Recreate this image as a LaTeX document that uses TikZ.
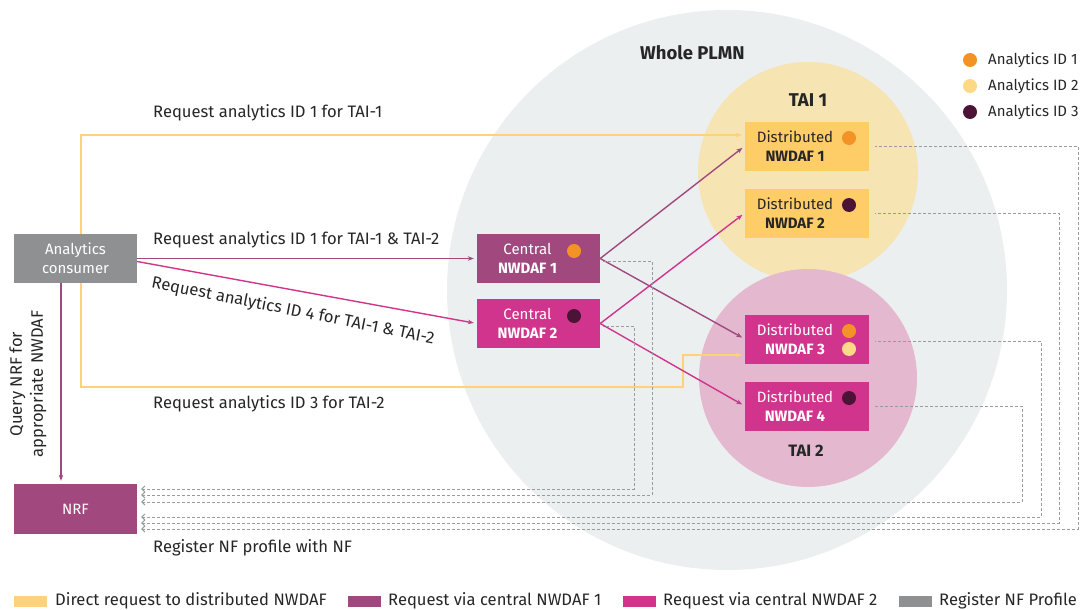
\documentclass[tikz,border=0pt]{standalone}
\usepackage{fontspec}
\setmainfont{Fira Sans}
\usetikzlibrary{arrows.meta}
\definecolor{plmn}{HTML}{ECEFF0}
\definecolor{taione}{HTML}{F7E4B3}
\definecolor{taitwo}{HTML}{E4B8CF}
\definecolor{yel}{HTML}{FFCD67}
\definecolor{yelline}{HTML}{FDD27A}
\definecolor{pur}{HTML}{A1487F}
\definecolor{mag}{HTML}{D0348C}
\definecolor{gry}{HTML}{8F9092}
\definecolor{dashgry}{HTML}{9A9B9D}
\definecolor{idone}{HTML}{F39325}
\definecolor{idtwo}{HTML}{FDD985}
\definecolor{idthree}{HTML}{4B1437}
\begin{document}
\begin{tikzpicture}[x=1pt, y=-1pt, node distance={67pt}, >={Stealth[length=6pt,width=4.5pt]},
    box/.style = {rectangle, minimum width=123pt, minimum height=49pt, inner sep=0pt},
    txt/.style = {align=center, inner sep=0pt, font=\fontsize{15}{19}\selectfont},
    dot/.style = {circle, minimum size=14pt, inner sep=0pt},
    lbl/.style = {anchor=west, inner sep=0pt, text=black!85, font=\fontsize{16.6}{19}\selectfont},
    swatch/.style = {rectangle, minimum width=33pt, minimum height=11pt, inner sep=0pt},
    conn/.style = {line width=1.4pt, shorten >=3pt},
    reg/.style = {draw=dashgry, line width=1pt, dash pattern=on 3pt off 2pt, {Straight Barb[length=3pt,width=6pt]}-}]
    \useasboundingbox (0,0) rectangle (1081,610);
    % areas
    \node[circle, fill=plmn, minimum size=560pt, inner sep=0pt] (PLMN) at (727,290) {};
    \node[circle, fill=taione, minimum size=220pt, inner sep=0pt] (TAI1) at (808,172) {};
    \node[circle, fill=taitwo, minimum size=218pt, inner sep=0pt] (TAI2) at (808,378) {};
    \node[lbl, font=\fontsize{18.5}{21}\selectfont\bfseries] (PLMNt) at (640,53) {Whole PLMN};
    \node[txt, text=black!85, font=\fontsize{18.5}{21}\selectfont\bfseries] (TAI1t) at (808,100) {TAI 1};
    \node[txt, text=black!85, font=\fontsize{16.5}{19}\selectfont\bfseries] (TAI2t) at (806,451) {TAI 2};

    % boxes
    \node[box, fill=gry] (AC) at (75.5,258.5) {};
    \node[txt, text=white] (ACt) at (AC.center) {Analytics\\consumer};
    \node[box, fill=pur, minimum height=50pt] (NRF) at (75.5,509) {};
    \node[txt, text=white] (NRFt) at (NRF.center) {NRF};

    \node[box, fill=pur] (C1) at (538.5,258.5) {};
    \node[box, fill=mag] (C2) [below of=C1, node distance={65pt}] {};
    \node[box, fill=yel, minimum width=124pt] (D1) at (807,146) {};
    \node[box, fill=yel, minimum width=124pt] (D2) [below of=D1] {};
    \node[box, fill=mag, minimum width=124pt] (D3) at (807,339) {};
    \node[box, fill=mag, minimum width=124pt] (D4) [below of=D3] {};

    \node[txt, text=white] (C1t) at ([xshift=-11pt]C1.center) {Central\\\textbf{NWDAF 1}};
    \node[txt, text=white] (C2t) at ([xshift=-11pt]C2.center) {Central\\\textbf{NWDAF 2}};
    \node[txt, text=black!85] (D1t) at ([xshift=-12pt]D1.center) {Distributed\\\textbf{NWDAF 1}};
    \node[txt, text=black!85] (D2t) at ([xshift=-12pt]D2.center) {Distributed\\\textbf{NWDAF 2}};
    \node[txt, text=white] (D3t) at ([xshift=-12pt]D3.center) {Distributed\\\textbf{NWDAF 3}};
    \node[txt, text=white] (D4t) at ([xshift=-12pt]D4.center) {Distributed\\\textbf{NWDAF 4}};

    \node[dot, fill=idone] (C1d) at ([xshift=35.5pt,yshift=7.5pt]C1.center) {};
    \node[dot, fill=idthree] (C2d) at ([xshift=35.5pt,yshift=7.5pt]C2.center) {};
    \node[dot, fill=idone] (D1d) at ([xshift=42pt,yshift=8pt]D1.center) {};
    \node[dot, fill=idthree] (D2d) at ([xshift=42pt,yshift=8pt]D2.center) {};
    \node[dot, fill=idone] (D3d) at ([xshift=42pt,yshift=8pt]D3.center) {};
    \node[dot, fill=idtwo] (D3e) at ([xshift=42pt,yshift=-10pt]D3.center) {};
    \node[dot, fill=idthree] (D4d) at ([xshift=42pt,yshift=8pt]D4.center) {};

    % requests
    \coordinate (bend) at (683,387);
    \draw[conn, yelline, ->] ([xshift=5.5pt]AC.north) |- ([yshift=11pt]D1.west);
    \draw[conn, yelline, ->] ([xshift=5.5pt]AC.south) |- (bend) |- ([yshift=-16pt]D3.west);
    \draw[conn, pur, ->] (AC.east) -- (C1.west);
    \draw[conn, mag, ->] ([yshift=-3pt]AC.east) -- (C2.west);
    \draw[conn, pur, ->] (C1.east) -- (D1.west);
    \draw[conn, pur, ->] (C1.east) -- (D3.west);
    \draw[conn, mag, ->] (C2.east) -- (D2.west);
    \draw[conn, mag, ->] (C2.east) -- (D4.west);
    \draw[conn, pur, ->] ([xshift=-14.5pt]AC.south) -- ([xshift=-14.5pt]NRF.north);

    % register NF profile
    \draw[reg] ([xshift=4pt,yshift=20pt]NRF.east) -| ([xshift=34pt,yshift=-3pt]C2.east) -- ([xshift=3pt,yshift=-3pt]C2.east);
    \draw[reg] ([xshift=4pt,yshift=14pt]NRF.east) -| ([xshift=52pt,yshift=-3pt]C1.east) -- ([xshift=3pt,yshift=-3pt]C1.east);
    \draw[reg] ([xshift=4pt,yshift=7pt]NRF.east) -| ([xshift=153pt]D4.east) -- ([xshift=6pt]D4.east);
    \draw[reg] ([xshift=4pt,yshift=-8pt]NRF.east) -| ([xshift=172pt,yshift=-2pt]D3.east) -- ([xshift=6pt,yshift=-2pt]D3.east);
    \draw[reg] ([xshift=4pt,yshift=-14pt]NRF.east) -| ([xshift=190pt]D2.east) -- ([xshift=6pt]D2.east);
    \draw[reg] ([xshift=4pt,yshift=-20pt]NRF.east) -| ([xshift=209pt]D1.east) -- ([xshift=6pt]D1.east);

    % labels
    \node[lbl] (R1) at (153,113) {Request analytics ID 1 for TAI-1};
    \node[lbl] (R2) at (153,240) {Request analytics ID 1 for TAI-1 \& TAI-2};
    \node[lbl, anchor=center, rotate=-11.3] (R4) at (293,311) {Request analytics ID 4 for TAI-1 \& TAI-2};
    \node[lbl] (R3) at (153,404) {Request analytics ID 3 for TAI-2};
    \node[lbl] (RG) at (153,548) {Register NF profile with NF};
    \node[txt, text=black!85, rotate=90, font=\fontsize{16.6}{21}\selectfont] (Q) at (28,384) {Query NRF for\\appropriate NWDAF};

    % analytics ids
    \node[dot, fill=idone] (K1) at (970,60) {};
    \node[dot, fill=idtwo] (K2) at (970,86) {};
    \node[dot, fill=idthree] (K3) at (970,112) {};
    \node[lbl, font=\fontsize{15}{17}\selectfont] (K1t) at (988,60) {Analytics ID 1};
    \node[lbl, font=\fontsize{15}{17}\selectfont] (K2t) at (988,86) {Analytics ID 2};
    \node[lbl, font=\fontsize{15}{17}\selectfont] (K3t) at (988,112) {Analytics ID 3};

    % legend
    \node[swatch, fill=yelline] (L1) at (30.5,601.5) {};
    \node[lbl] (L1t) at (55,601) {Direct request to distributed NWDAF};
    \node[swatch, fill=pur] (L2) at (364,601.5) {};
    \node[lbl] (L2t) at (388,601) {Request via central NWDAF 1};
    \node[swatch, fill=mag] (L3) at (639,601.5) {};
    \node[lbl] (L3t) at (663,601) {Request via central NWDAF 2};
    \node[swatch, fill=gry] (L4) at (915,601.5) {};
    \node[lbl] (L4t) at (939,601) {Register NF Profile};
\end{tikzpicture}
\end{document}
